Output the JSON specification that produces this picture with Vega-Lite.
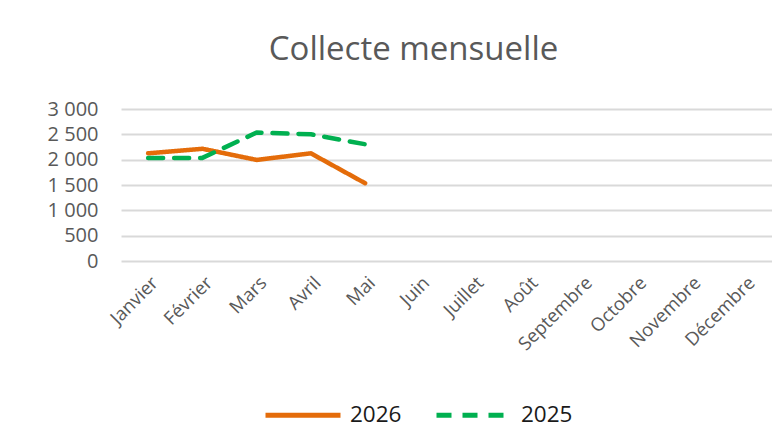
{
  "$schema": "https://vega.github.io/schema/vega-lite/v6.json",
  "autosize": "none",
  "padding": {"left": 121, "top": 109, "right": 0, "bottom": 180},
  "width": 651,
  "height": 152,
  "background": "white",
  "config": {
    "locale": {"number": {"decimal": ",", "thousands": " ", "grouping": [3], "currency": ["", " €"]}},
    "view": {"stroke": null},
    "font": "Open Sans"
  },
  "title": {
    "text": "Collecte mensuelle",
    "font": "Open Sans",
    "fontSize": 33,
    "fontWeight": "normal",
    "color": "#595959",
    "anchor": "middle",
    "dx": -33,
    "offset": 32
  },
  "data": {
    "values": [
      {"mois": "Janvier", "annee": "2026", "valeur": 2125},
      {"mois": "Février", "annee": "2026", "valeur": 2215},
      {"mois": "Mars", "annee": "2026", "valeur": 1995},
      {"mois": "Avril", "annee": "2026", "valeur": 2125},
      {"mois": "Mai", "annee": "2026", "valeur": 1535},
      {"mois": "Janvier", "annee": "2025", "valeur": 2035},
      {"mois": "Février", "annee": "2025", "valeur": 2035},
      {"mois": "Mars", "annee": "2025", "valeur": 2535},
      {"mois": "Avril", "annee": "2025", "valeur": 2500},
      {"mois": "Mai", "annee": "2025", "valeur": 2305}
    ]
  },
  "mark": {"type": "line", "strokeWidth": 4.5, "strokeCap": "round", "strokeJoin": "round"},
  "encoding": {
    "x": {
      "field": "mois",
      "type": "ordinal",
      "scale": {"domain": ["Janvier", "Février", "Mars", "Avril", "Mai", "Juin", "Juillet", "Août", "Septembre", "Octobre", "Novembre", "Décembre"], "type": "point", "padding": 0.5},
      "axis": {
        "title": null,
        "labelAngle": -45,
        "labelFontSize": 18.5,
        "labelColor": "#595959",
        "labelFont": "Open Sans",
        "ticks": false,
        "domain": false,
        "grid": false,
        "labelPadding": 12
      }
    },
    "y": {
      "field": "valeur",
      "type": "quantitative",
      "scale": {"domain": [0, 3000]},
      "axis": {
        "title": null,
        "values": [0, 500, 1000, 1500, 2000, 2500, 3000],
        "format": ",d",
        "labelFontSize": 20,
        "labelColor": "#595959",
        "labelFont": "Open Sans",
        "ticks": false,
        "domain": false,
        "gridColor": "#d9d9d9",
        "gridWidth": 2,
        "labelPadding": 23
      }
    },
    "color": {
      "field": "annee",
      "type": "nominal",
      "scale": {"domain": ["2026", "2025"], "range": ["#E46C0A", "#00B050"]},
      "legend": {
        "title": null,
        "orient": "none",
        "direction": "horizontal",
        "legendX": 142,
        "legendY": 266,
        "symbolType": "stroke",
        "symbolSize": 5625,
        "symbolStrokeWidth": 5,
        "labelFontSize": 22.5,
        "labelColor": "#1a1a1a",
        "labelFont": "Open Sans",
        "labelOffset": 7,
        "columnPadding": 24
      }
    },
    "strokeDash": {
      "field": "annee",
      "type": "nominal",
      "scale": {"domain": ["2026", "2025"], "range": [[1, 0], [15, 11]]},
      "legend": {
        "title": null,
        "orient": "none",
        "direction": "horizontal",
        "legendX": 142,
        "legendY": 266,
        "symbolType": "stroke",
        "symbolSize": 5625,
        "symbolStrokeWidth": 5,
        "labelFontSize": 22.5,
        "labelColor": "#1a1a1a",
        "labelFont": "Open Sans",
        "labelOffset": 7,
        "columnPadding": 24
      }
    }
  }
}
